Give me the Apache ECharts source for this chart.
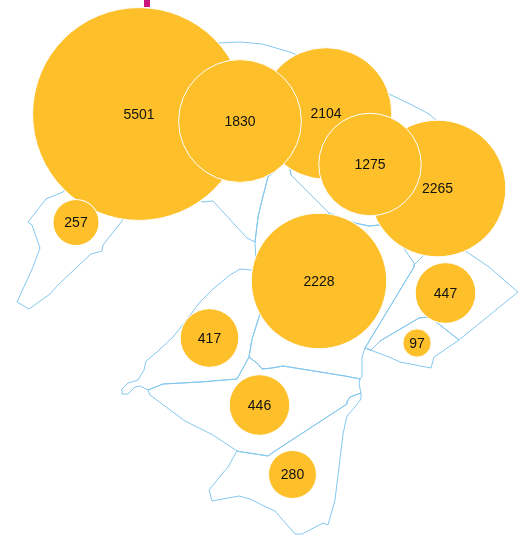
<!DOCTYPE html>
<html>
<head>
<meta charset="utf-8">
<style>html,body{margin:0;padding:0;background:#fff}#chart{width:525px;height:535px}</style>
<script src="https://cdn.jsdelivr.net/npm/echarts@6/dist/echarts.min.js"></script>
</head>
<body>
<div id="chart"></div>
<script>
// Map coordinates: [east, south] in the map's own planar units.
const regionWest = [[63,192],[46,199],[28,222],[32,225],[40,248],[33,267],[17,302],[29,309],[50,294],[58,285],[77,267],[91,254],[102,251],[103,245],[122,221],[139,150],[100,150]];
const regionNorth = [[218,43],[240,42],[262,44],[290,52],[295,54],[300,110],[268,177],[262,200],[258,217],[255,242],[247,238],[213,201],[202,202],[150,150],[150,100]];
const regionCentreNorth = [[255,242],[256,260],[280,270],[329,213],[291,175],[290,170],[300,150],[268,177],[262,200],[258,217]];
const regionNorthEast = [[389,94],[412,105],[429,114],[436,120],[430,180],[400,220],[379,225],[369,226],[355,223],[329,213],[291,175],[290,170],[310,130],[340,100]];
const regionCentre = [[329,213],[355,223],[369,226],[379,225],[395,228],[405,250],[414,263],[414,267],[365,348],[362,357],[362,377],[360,379],[345,376],[283,366],[272,368],[262,369],[258,364],[249,357],[252,339],[260,314],[270,290],[280,270]];
const regionMidWest = [[252,270],[240,269],[230,275],[213,289],[200,302],[185,322],[173,337],[157,352],[146,361],[144,370],[138,380],[128,383],[122,389],[122,394],[128,394],[135,387],[140,386],[148,390],[163,384],[200,382],[237,379],[249,357],[252,339],[260,314],[270,290]];
const regionEast = [[422,257],[414,265],[414,267],[365,348],[371,350],[380,341],[419,318],[428,317],[435,321],[459,340],[518,292],[489,267],[467,252],[440,230]];
const regionSouthEast = [[371,350],[380,341],[419,318],[428,317],[435,321],[459,340],[434,357],[431,368],[400,362],[389,357],[365,348]];
const regionCoast = [[148,390],[150,395],[185,421],[213,435],[237,451],[242,452],[262,455],[268,456],[275,451],[347,404],[347,402],[350,397],[361,393],[359,384],[360,379],[345,376],[283,366],[272,368],[262,369],[258,364],[249,357],[237,379],[200,382],[163,384]];
const regionSouth = [[237,451],[228,467],[222,474],[209,490],[212,501],[239,496],[250,499],[262,505],[275,511],[295,534],[302,534],[323,523],[328,525],[335,500],[339,467],[343,434],[347,416],[355,407],[361,399],[361,393],[350,397],[347,402],[347,404],[275,451],[268,456],[262,455],[242,452]];

const values  = [5501, 2104, 2265, 2228, 1830, 1275, 257, 417, 446, 280, 447, 97];
const centreE = [139, 326, 437.5, 319, 240, 370, 76, 209.5, 259.5, 292.5, 445.5, 417];
const centreS = [114, 113.5, 188.5, 281, 121, 164.5, 222.5, 338, 405, 474.5, 293, 343];

const regions = [regionWest, regionNorth, regionCentreNorth, regionNorthEast, regionCentre, regionMidWest, regionEast, regionSouthEast, regionCoast, regionSouth];

const HEIGHT = 535;
const toLat = p => [p[0], HEIGHT - p[1]];
const geoJson = {
  type: 'FeatureCollection',
  features: regions.map((ring, i) => ({
    type: 'Feature',
    properties: { name: 'region' + i },
    geometry: { type: 'Polygon', coordinates: [ring.concat([ring[0]]).map(toLat)] }
  }))
};
echarts.registerMap('regions', geoJson);

const chart = echarts.init(document.getElementById('chart'), null, { renderer: 'canvas' });
chart.setOption({
  animation: false,
  backgroundColor: '#ffffff',
  geo: {
    map: 'regions',
    silent: true,
    roam: false,
    aspectScale: 1,
    boundingCoords: [[0, HEIGHT], [525, 0]],
    left: 0, top: 0, width: 525, height: 535,
    label: { show: false },
    itemStyle: { areaColor: 'rgba(255,255,255,0)', borderColor: '#84c8ef', borderWidth: 1 }
  },
  graphic: [{
    type: 'rect',
    shape: { x: 144, y: 0, width: 6, height: 7 },
    style: { fill: '#c9177d' }
  }],
  series: [{
    type: 'scatter',
    coordinateSystem: 'geo',
    silent: true,
    data: values.map((v, i) => [centreE[i], HEIGHT - centreS[i], v]),
    symbol: 'circle',
    symbolSize: d => 2.87 * Math.sqrt(d[2]),
    itemStyle: { color: '#fdc02b', borderColor: '#ffffff', borderWidth: 1, opacity: 1 },
    label: {
      show: true,
      position: 'inside',
      offset: [0, 1],
      formatter: p => String(p.value[2]),
      color: '#111111',
      fontFamily: '"Liberation Sans", Arial, sans-serif',
      fontSize: 14
    }
  }]
});
</script>
</body>
</html>
